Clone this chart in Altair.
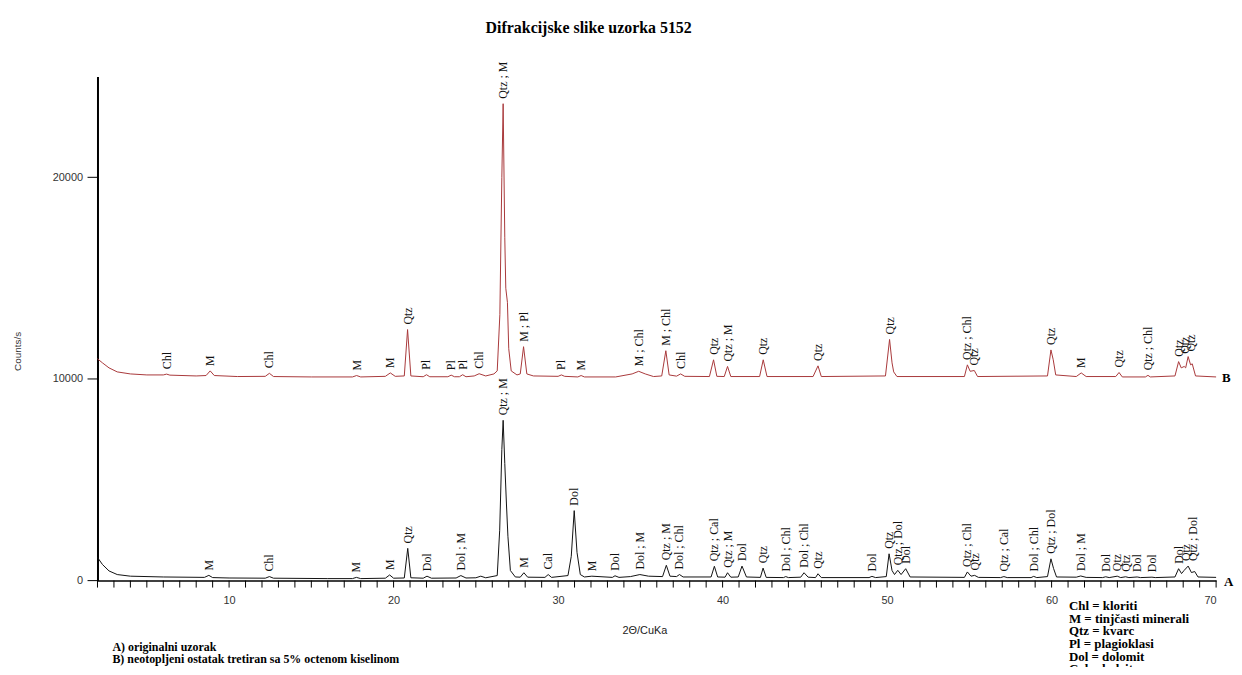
import altair as alt
import pandas as pd

# ---- series B (treated residue), 2theta and counts/s ----
b_x = [2.0, 2.3, 2.7, 3.2, 4.0, 5.0, 6.0, 6.2, 6.4, 8.0, 8.6, 8.85, 9.1, 10.5, 12.2, 12.45, 12.7,
       15.0, 17.5, 17.75, 18.0, 19.5, 19.8, 20.1, 20.65, 20.85, 21.05, 21.8, 22.0, 22.2, 23.3, 23.5,
       23.7, 24.0, 24.2, 24.4, 24.9, 25.2, 25.6, 26.1, 26.3, 26.46, 26.58, 26.66, 26.76, 26.82, 26.92,
       27.0, 27.15, 27.5, 27.7, 27.9, 28.1, 28.5, 30.0, 30.2, 30.4, 31.2, 31.4, 31.6, 33.5, 34.5,
       34.9, 35.3, 35.8, 36.3, 36.55, 36.75, 37.2, 37.45, 37.7, 39.2, 39.45, 39.65, 40.1, 40.3, 40.5,
       42.25, 42.47, 42.7, 45.5, 45.8, 46.0, 49.9, 50.15, 50.3, 50.4, 50.6, 54.7, 54.88, 55.05, 55.3,
       55.5, 59.75, 59.96, 60.1, 60.25, 61.5, 61.8, 62.1, 63.9, 64.1, 64.3, 65.7, 65.86, 66.0, 67.5,
       67.72, 67.88, 68.06, 68.15, 68.3, 68.45, 68.55, 68.75, 70.0]
b_y = [11000, 10800, 10550, 10350, 10250, 10200, 10200, 10240, 10190, 10150, 10170, 10400, 10170,
       10120, 10130, 10280, 10120, 10100, 10100, 10170, 10100, 10130, 10300, 10130, 10150, 12450,
       10150, 10110, 10210, 10110, 10110, 10190, 10110, 10110, 10210, 10110, 10150, 10260, 10150,
       10250, 10400, 13200, 20000, 23650, 17000, 14500, 13800, 11500, 10400, 10200, 10250, 11600,
       10250, 10150, 10130, 10200, 10130, 10100, 10170, 10100, 10100, 10250, 10380, 10250, 10120,
       10150, 11400, 10200, 10140, 10250, 10130, 10120, 10950, 10130, 10120, 10620, 10120, 10120,
       10950, 10120, 10120, 10650, 10120, 10150, 11960, 10800, 10350, 10120, 10120, 10700, 10380,
       10420, 10120, 10150, 11440, 10950, 10200, 10120, 10300, 10120, 10120, 10320, 10100, 10100,
       10180, 10100, 10150, 10860, 10550, 10620, 10550, 11110, 10700, 10750, 10150, 10100]

# ---- series A (original sample) ----
a_x = [2.0, 2.3, 2.7, 3.2, 4.0, 6.0, 8.5, 8.77, 9.0, 10.0, 12.2, 12.45, 12.7, 16.0, 17.5, 17.74,
       18.0, 19.5, 19.76, 20.0, 20.65, 20.86, 21.05, 21.8, 22.03, 22.3, 23.8, 24.09, 24.4, 25.0,
       25.3, 25.6, 26.3, 26.45, 26.58, 26.66, 26.76, 26.86, 26.95, 27.1, 27.4, 27.7, 27.92, 28.15,
       29.2, 29.4, 29.6, 30.6, 30.8, 30.98, 31.15, 31.35, 31.6, 32.05, 33.3, 33.46, 33.7, 34.4,
       34.97, 35.5, 36.35, 36.58, 36.8, 37.2, 37.38, 37.6, 39.3, 39.5, 39.7, 40.15, 40.3, 40.5,
       40.95, 41.18, 41.45, 42.3, 42.46, 42.65, 43.7, 43.84, 44.0, 44.75, 44.95, 45.2, 45.65, 45.8,
       46.0, 48.9, 49.08, 49.3, 49.95, 50.12, 50.3, 50.45, 50.65, 50.85, 51.13, 51.4, 54.7, 54.88,
       55.1, 55.32, 55.55, 56.9, 57.1, 57.3, 58.75, 58.91, 59.1, 59.75, 59.96, 60.12, 60.3, 61.5,
       61.77, 62.1, 63.1, 63.29, 63.5, 63.99, 64.2, 64.5, 64.7, 65.2, 65.4, 66.1, 66.3, 67.5, 67.72,
       67.9, 68.05, 68.3, 68.5, 68.7, 68.9, 70.0]
a_y = [1150, 800, 480, 300, 220, 180, 160, 260, 150, 130, 120, 200, 120, 100, 100, 160, 100, 120,
       280, 120, 130, 1600, 140, 120, 220, 120, 130, 250, 130, 140, 220, 140, 250, 2500, 6500, 7950,
       5800, 3800, 2200, 500, 180, 170, 390, 170, 160, 300, 160, 250, 1200, 3470, 1400, 300, 180,
       220, 160, 240, 160, 200, 300, 220, 200, 760, 220, 200, 300, 180, 180, 710, 180, 170, 390,
       170, 180, 720, 180, 160, 620, 160, 150, 200, 150, 170, 390, 170, 150, 340, 150, 150, 210,
       150, 200, 1330, 500, 300, 510, 300, 590, 180, 160, 430, 220, 260, 160, 150, 200, 150, 150,
       210, 150, 200, 1080, 600, 180, 170, 230, 160, 150, 190, 150, 220, 150, 190, 150, 180, 150,
       170, 150, 180, 590, 350, 500, 720, 400, 450, 180, 160]

# ---- peak labels ----
b_lab_x = [6.2, 8.85, 12.45, 17.75, 19.8, 20.85, 22.0, 23.5, 24.2, 25.2, 26.64, 27.9, 30.2, 31.4,
           34.9, 36.55, 37.45, 39.45, 40.3, 42.47, 45.8, 50.15, 54.88, 55.3, 59.96, 61.8, 64.1,
           65.86, 67.72, 68.1, 68.5]
b_lab_y = [10240, 10400, 10280, 10170, 10300, 12450, 10210, 10190, 10210, 10260, 23650, 11600,
           10200, 10170, 10380, 11400, 10250, 10950, 10620, 10950, 10650, 11960, 10700, 10420,
           11440, 10300, 10320, 10180, 10860, 11000, 11110]
b_lab_t = ["Chl", "M", "Chl", "M", "M", "Qtz", "Pl", "Pl", "Pl", "Chl", "Qtz ; M", "M ; Pl", "Pl",
           "M", "M ; Chl", "M ; Chl", "Chl", "Qtz", "Qtz ; M", "Qtz", "Qtz", "Qtz", "Qtz ; Chl",
           "Qtz", "Qtz", "M", "Qtz", "Qtz ; Chl", "Qtz", "Qtz", "Qtz"]

a_lab_x = [8.77, 12.45, 17.74, 19.76, 20.86, 22.03, 24.09, 26.66, 27.92, 29.39, 30.98, 32.05,
           33.46, 34.97, 36.58, 37.38, 39.5, 40.3, 41.18, 42.46, 43.84, 44.95, 45.8, 49.08, 50.12,
           50.65, 51.13, 54.88, 55.32, 57.1, 58.91, 59.96, 61.77, 63.29, 63.99, 64.5, 65.2, 66.1,
           67.72, 68.2, 68.6]
a_lab_y = [260, 200, 160, 280, 1600, 220, 250, 7950, 390, 300, 3470, 220, 240, 300, 760, 300, 710,
           390, 720, 620, 200, 390, 340, 210, 1330, 510, 590, 430, 260, 200, 210, 1080, 230, 190,
           220, 190, 180, 170, 590, 720, 720]
a_lab_t = ["M", "Chl", "M", "M", "Qtz", "Dol", "Dol ; M", "Qtz ; M", "M", "Cal", "Dol", "M", "Dol",
           "Dol ; M", "Qtz ; M", "Dol ; Chl", "Qtz ; Cal", "Qtz ; M", "Dol", "Qtz", "Dol ; Chl",
           "Dol ; Chl", "Qtz", "Dol", "Qtz", "Qtz ; Dol", "Dol", "Qtz ; Chl", "Qtz", "Qtz ; Cal",
           "Dol ; Chl", "Qtz ; Dol", "Dol ; M", "Dol", "Qtz", "Qtz", "Dol", "Dol", "Dol", "Qtz",
           "Qtz ; Dol"]

x_ticks = list(range(2, 71))
x_labels = [10, 20, 30, 40, 50, 60, 70]
y_ticks = [0, 10000, 20000]

title_text = "Difrakcijske slike uzorka 5152"
notes_text = "A) originalni uzorak\nB) neotopljeni ostatak tretiran sa 5% octenom kiselinom"
legend_text = ("Chl = kloriti\nM = tinjčasti minerali\nQtz = kvarc\nPl = plagioklasi\n"
               "Dol = dolomit\nCal = kalcit")

curves = pd.concat([
    pd.DataFrame({"t": a_x, "c": a_y, "s": "A"}),
    pd.DataFrame({"t": b_x, "c": b_y, "s": "B"}),
])
labels = pd.concat([
    pd.DataFrame({"t": a_lab_x, "c": a_lab_y, "lab": a_lab_t}),
    pd.DataFrame({"t": b_lab_x, "c": b_lab_y, "lab": b_lab_t}),
])

W, H = 1125, 507
xs = alt.Scale(domain=[2, 70], nice=False, zero=False)
ys = alt.Scale(domain=[0, 25000], nice=False)

x_axis = alt.Axis(values=x_labels, labelOverlap=False, ticks=False, tickSize=0,
                  domainColor="#000", domainWidth=1.5,
                  labelFont="Liberation Sans", labelFontSize=11, labelColor="#333",
                  labelPadding=14, grid=False, title="2Θ/CuKa", titleFont="Liberation Sans",
                  titleFontSize=11, titleFontWeight="normal", titleColor="#222",
                  titleX=550, titleY=44)
y_axis = alt.Axis(values=y_ticks, format="d", ticks=False, tickSize=0,
                  domainColor="#000", domainWidth=2,
                  labelFont="Liberation Sans", labelOverlap=False,
                  labelFontSize=11, labelColor="#333", labelPadding=15, grid=False,
                  title="Counts/s", titleFont="Liberation Sans", titleFontSize=10,
                  titleFontWeight="normal", titleColor="#333", titleX=-80, titleY=276,
                  titleAngle=270, titleAlign="center", titleBaseline="middle")

lines = alt.Chart(curves).mark_line(strokeWidth=1, interpolate="linear").encode(
    x=alt.X("t:Q", scale=xs, axis=x_axis),
    y=alt.Y("c:Q", scale=ys, axis=y_axis),
    color=alt.Color("s:N", scale=alt.Scale(domain=["A", "B"], range=["#111111", "#a8383a"]),
                    legend=None),
    detail="s:N",
    order="t:Q",
)

peak_text = alt.Chart(labels).mark_text(
    angle=270, align="left", baseline="middle", dx=5, font="Liberation Serif",
    fontSize=12, color="#111",
).encode(x=alt.X("t:Q", scale=xs, axis=x_axis), y=alt.Y("c:Q", scale=ys, axis=y_axis),
         text="lab:N")

# tick marks drawn from the tick value lists through the scales
xtick_marks = alt.Chart(pd.DataFrame({"t": x_ticks})).mark_rule(
    color="#000", strokeWidth=1).encode(
    x=alt.X("t:Q", scale=xs, axis=x_axis), y=alt.value(H), y2=alt.value(H + 7))
ytick_marks = alt.Chart(pd.DataFrame({"c": y_ticks})).mark_rule(
    color="#000", strokeWidth=1).encode(
    y=alt.Y("c:Q", scale=ys, axis=y_axis), x=alt.value(-10), x2=alt.value(0))

one = alt.Data(values=[{}])

title = alt.Chart(one).mark_text(
    font="Liberation Serif", fontSize=16, fontWeight="bold", align="center",
    baseline="alphabetic", color="#000",
).encode(x=alt.value(494), y=alt.value(-44), text=alt.value(title_text))

tag_b = alt.Chart(one).mark_text(
    font="Liberation Serif", fontSize=13, fontWeight="bold", align="left", baseline="middle",
).encode(x=alt.value(1131), y=alt.value(303), text=alt.value("B"))
tag_a = alt.Chart(one).mark_text(
    font="Liberation Serif", fontSize=13, fontWeight="bold", align="left", baseline="middle",
).encode(x=alt.value(1133), y=alt.value(508), text=alt.value("A"))

notes = alt.Chart(one).mark_text(
    font="Liberation Serif", fontSize=12, fontWeight="bold", align="left", baseline="top",
    lineBreak="\n", lineHeight=12,
).encode(x=alt.value(15), y=alt.value(569), text=alt.value(notes_text))

legend = alt.Chart(one).mark_text(
    font="Liberation Serif", fontSize=13, fontWeight="bold", align="left", baseline="top",
    lineBreak="\n", lineHeight=12.6,
).encode(x=alt.value(977), y=alt.value(527), text=alt.value(legend_text))

chart = alt.layer(lines, peak_text, xtick_marks, ytick_marks, title, tag_b, tag_a, notes,
                  legend).properties(
    width=W, height=H,
    autosize=alt.AutoSizeParams(type="none"),
    padding={"left": 90, "top": 67, "right": 18, "bottom": 85},
).configure(background="white").configure_view(stroke=None)

chart.save("out.html", embed_options={"renderer": "svg", "actions": False})
